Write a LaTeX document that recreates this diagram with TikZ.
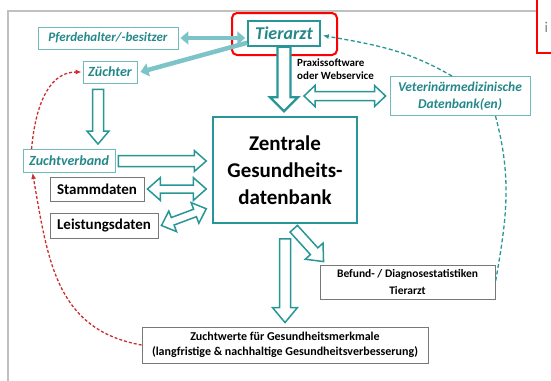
\documentclass[tikz,border=0pt]{standalone}
\usepackage{fontspec}
\setmainfont{Carlito}
\usetikzlibrary{positioning,arrows.meta,calc}

\definecolor{tealline}{RGB}{40,150,150}
\definecolor{tealtext}{RGB}{36,136,138}
\definecolor{tealbox}{RGB}{112,186,188}
\definecolor{tealsoft}{RGB}{124,196,200}
\definecolor{reddash}{RGB}{205,45,45}
\definecolor{framegray}{RGB}{192,192,192}
\definecolor{boxgray}{RGB}{120,120,120}

\begin{document}
\begin{tikzpicture}[
  x=1pt, y=1pt,
  tbox/.style={draw=tealbox, line width=0.9pt, text=tealtext, inner sep=0pt, align=center,
    font=\bfseries\itshape\fontsize{14}{17}\selectfont},
  gbox/.style={draw=boxgray, line width=0.9pt, inner sep=0pt, align=center,
    font=\bfseries\fontsize{15}{18}\selectfont},
  soft/.style={draw=tealsoft, line width=4.5pt},
  redline/.style={draw=reddash, line width=1.3pt, dash pattern=on 3pt off 2pt},
  tealdash/.style={draw=tealline, line width=1.3pt, dash pattern=on 4pt off 2.5pt},
  fatarrow/.style n args={3}{draw=tealline, fill=white, line width=1.5pt, line join=miter,
    to path={($(\tikztostart)!#1!90:(\tikztotarget)$)
      -- ($(\tikztotarget)!#3!(\tikztostart)!#1!-90:(\tikztostart)$)
      -- ($(\tikztotarget)!#3!(\tikztostart)!#2!-90:(\tikztostart)$)
      -- (\tikztotarget)
      -- ($(\tikztotarget)!#3!(\tikztostart)!#2!90:(\tikztostart)$)
      -- ($(\tikztotarget)!#3!(\tikztostart)!#1!90:(\tikztostart)$)
      -- ($(\tikztostart)!#1!-90:(\tikztotarget)$) -- cycle}},
  fatboth/.style n args={3}{draw=tealline, fill=white, line width=1.5pt, line join=miter,
    to path={(\tikztostart)
      -- ($(\tikztostart)!#3!(\tikztotarget)!#2!90:(\tikztotarget)$)
      -- ($(\tikztostart)!#3!(\tikztotarget)!#1!90:(\tikztotarget)$)
      -- ($(\tikztotarget)!#3!(\tikztostart)!#1!-90:(\tikztostart)$)
      -- ($(\tikztotarget)!#3!(\tikztostart)!#2!-90:(\tikztostart)$)
      -- (\tikztotarget)
      -- ($(\tikztotarget)!#3!(\tikztostart)!#2!90:(\tikztostart)$)
      -- ($(\tikztotarget)!#3!(\tikztostart)!#1!90:(\tikztostart)$)
      -- ($(\tikztostart)!#3!(\tikztotarget)!#1!-90:(\tikztotarget)$)
      -- ($(\tikztostart)!#3!(\tikztotarget)!#2!-90:(\tikztotarget)$)
      -- cycle}}
]
\useasboundingbox (0,0) rectangle (551,-380);
\draw[framegray, line width=1.5pt] (537,-11) -- (8,-11) -- (8,-390);
\draw[red, line width=2pt] (537,-53) rectangle (600,10);
\node[anchor=west, text=gray, font=\fontsize{15}{17}\selectfont] (cut) at (541,-27) {i};

% nodes
\node[tbox, draw=tealline, line width=1.5pt, minimum width=72pt, minimum height=25pt,
  font=\bfseries\itshape\fontsize{18}{20}\selectfont] (tierarzt) at (284,-33.5) {Tierarzt};
\node[draw=red, line width=2pt, rounded corners=5pt, minimum width=105pt, minimum height=42pt] (mark) at (284.5,-34) {};
\node[tbox, minimum width=140pt, minimum height=22pt, font=\bfseries\itshape\fontsize{13}{15}\selectfont] (pferde) at (108,-38) {Pferdehalter/-besitzer};
\node[tbox, minimum width=54pt, minimum height=22pt] (zuechter) at (110,-72) {Züchter};
\node[tbox, minimum width=92pt, minimum height=23pt] (zuchtverband) at (69,-161) {Zuchtverband};
\node[tbox, minimum width=140pt, minimum height=39pt, font=\bfseries\itshape\fontsize{13.5}{17}\selectfont] (vet) at (460,-96) {Veterinärmedizinische\\Datenbank(en)};
\node[gbox, minimum width=94pt, minimum height=24pt] (stamm) at (97,-189) {Stammdaten};
\node[gbox, minimum width=108pt, minimum height=25pt] (leistung) at (104,-225.5) {Leistungsdaten};
\node[gbox, draw=tealline, line width=1.5pt, minimum width=144pt, minimum height=106pt,
  font=\bfseries\fontsize{21}{27}\selectfont] (zentrale) at (285,-170) {Zentrale\\Gesundheits-\\datenbank};
\node[anchor=north west, align=left, inner sep=0pt, font=\bfseries\fontsize{11}{13}\selectfont] (praxis) at (297,-59) {Praxissoftware\\oder Webservice};
\node[gbox, minimum width=175pt, minimum height=34pt, font=\bfseries\fontsize{11.5}{17}\selectfont] (befund) at (407.5,-282) {Befund- / Diagnosestatistiken\\Tierarzt};
\node[gbox, minimum width=286pt, minimum height=36pt, font=\bfseries\fontsize{12}{14.5}\selectfont] (zuchtwerte) at (285,-345) {Zuchtwerte für Gesundheitsmerkmale\\(langfristige \& nachhaltige Gesundheitsverbesserung)};

% arrows
\draw[soft, shorten <=2pt, shorten >=2pt, {Triangle[length=8pt,width=13pt]}-{Triangle[length=8pt,width=13pt]}] (pferde.east) -- (pferde.east -| tierarzt.west);
\draw[soft, -{Triangle[length=8pt,width=13pt]}] ([yshift=4pt]tierarzt.south west) -- ([xshift=3pt]zuechter.east);
\draw[fatarrow={6.5pt}{14pt}{14pt}, line width=2.2pt] (tierarzt.south) to ([yshift=5pt]tierarzt.south |- zentrale.north);
\draw[fatboth={4.5pt}{10.5pt}{11pt}] ([xshift=20pt]tierarzt.south |- vet.west) to ([xshift=-4pt]vet.west);
\draw[fatarrow={5.5pt}{11pt}{13pt}] ([shift={(-12pt,-6pt)}]zuechter.south) to ($(zuechter.south |- zuchtverband.north)+(-12,5)$);
\draw[fatarrow={5.5pt}{10.5pt}{12pt}] ([xshift=3pt]zuchtverband.east) to ([xshift=-6pt]zentrale.west |- zuchtverband.east);
\draw[fatboth={4pt}{11.5pt}{13pt}] ([xshift=3pt]stamm.east) to ([xshift=-6pt]zentrale.west |- stamm.east);
\draw[fatboth={4pt}{11pt}{12pt}] ([xshift=3pt]leistung.east) to ([shift={(-6pt,15pt)}]zentrale.south west);
\draw[fatarrow={5pt}{12pt}{14pt}] ([shift={(-64pt,-5pt)}]zentrale.south east) to ([shift={(4pt,3pt)}]befund.north west);
\draw[fatarrow={5.5pt}{12.5pt}{15pt}] ([yshift=-15pt]zentrale.south) to ([yshift=4pt]zentrale.south |- zuchtwerte.north);

% dashed feedback
\draw[tealdash, -{Latex[length=6pt,width=5pt]}] ([xshift=-8pt]vet.north) to[out=150, in=-10] ([xshift=2pt,yshift=-2pt]tierarzt.east);
\draw[tealdash] ([xshift=-35pt]vet.south east) to[out=-75, in=80] (befund.east);
\draw[redline, -{Latex[length=6pt,width=5pt]}] (zuchtwerte.west) to[out=170, in=-80, looseness=1.1] ([xshift=10pt]zuchtverband.south west);
\draw[redline, -{Latex[length=6pt,width=5pt]}] ([xshift=9pt]zuchtverband.north west) to[out=85, in=180] ([xshift=-1pt]zuechter.west);
\end{tikzpicture}
\end{document}
